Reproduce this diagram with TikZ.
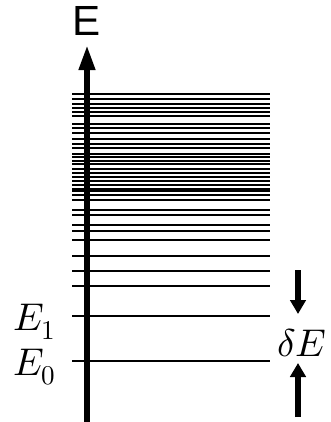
\documentclass[tikz,border=0pt]{standalone}
\usepackage{fontspec}
\usepackage{unicode-math}
\setmathfont{Latin Modern Math}
\newfontfamily\axisfont{Liberation Sans}
\usetikzlibrary{arrows.meta}

\begin{document}
\begin{tikzpicture}[
        x=0.03cm, y=-0.03cm,
        level/.style={line width=2.5pt, black},
        axis/.style={line width=5pt, -{Triangle[length=0.75cm, width=0.46cm]}},
        gap_arrow/.style={line width=5pt, -{Triangle[length=0.42cm, width=0.46cm]}},
        lab/.style={font=\fontsize{33}{40}\selectfont, inner sep=0pt},
        axis_lab/.style={font=\axisfont\fontsize{36}{40}\selectfont, inner sep=0pt}
    ]
    \useasboundingbox (0,0) rectangle (330,422);

    % Quasi-continuum of levels
    \foreach \y in {94, 99, 104, 108, 112, 116, 124, 128, 133, 139, 144, 148,
                    154, 157, 161, 164, 169, 173, 177, 181, 185, 189, 191, 195, 200,
                    210, 215, 225, 231, 240, 256, 271, 286} {
        \draw[level] (72, \y) -- (270, \y);
    }

    % Lowest levels
    \draw[level] (72, 316) -- (270, 316);
    \draw[level] (72, 361) -- (270, 361);
    \node[lab, anchor=east] (e1) at (56, 322) {$E_1$};
    \node[lab, anchor=east] (e0) at (56, 367) {$E_0$};

    % Axis
    \coordinate (axis_bot) at (87, 422);
    \coordinate (axis_top) at (87, 45);
    \draw[axis] (axis_bot) -- (axis_top);
    \node[axis_lab] (elab) at (87, 21) {E};

    % Level spacing
    \node[lab] (de) at (302, 343) {$\delta E$};
    \coordinate (gap_top) at (298, 270);
    \coordinate (gap_top_end) at (298, 314);
    \coordinate (gap_bot) at (298, 417);
    \coordinate (gap_bot_end) at (298, 363);
    \draw[gap_arrow] (gap_top) -- (gap_top_end);
    \draw[gap_arrow] (gap_bot) -- (gap_bot_end);

\end{tikzpicture}
\end{document}
